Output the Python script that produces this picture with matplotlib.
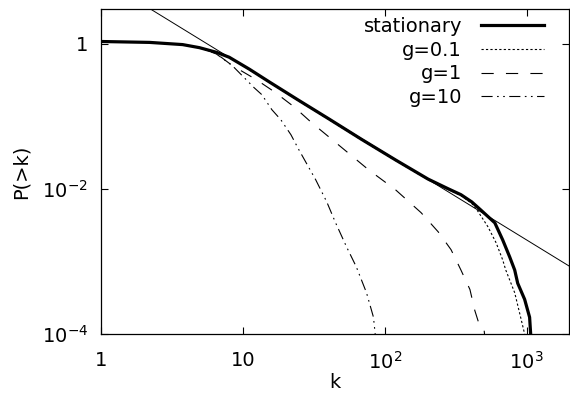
import matplotlib
matplotlib.use("Agg")
import matplotlib.pyplot as plt
import numpy as np

plt.rcParams['font.family'] = ['DejaVu Sans']
plt.rcParams['mathtext.fontset'] = 'dejavusans'

# cumulative degree distributions
k_stat = [1, 2.2, 3.76, 4.94, 6.5, 8.0, 11.1, 15.3, 24.8, 40.3, 68.6, 119, 202, 280,
          344, 410, 475, 596, 677, 759, 823, 864, 967, 1048, 1070]
p_stat = [1.07, 1.04, 0.97, 0.88, 0.76, 0.65, 0.445, 0.298, 0.165, 0.092, 0.048, 0.025,
          0.0136, 0.0100, 0.0083, 0.0066, 0.0051, 0.0034, 0.00198, 0.00115, 0.00076,
          0.0005, 0.0003, 0.00017, 0.00009]

k_g01 = [1, 2.2, 3.76, 4.94, 6.5, 8.0, 11.1, 15.3, 24.8, 40.3, 68.6, 119, 202, 280,
         344, 410, 453, 533, 609, 677, 712, 823, 906, 967, 990]
p_g01 = [1.07, 1.04, 0.97, 0.88, 0.76, 0.645, 0.44, 0.294, 0.162, 0.09, 0.047, 0.0245,
         0.0133, 0.0097, 0.0081, 0.0063, 0.0049, 0.003, 0.0018, 0.00105, 0.00076,
         0.00037, 0.00017, 0.0001, 0.00008]

k_g1 = [1, 2.2, 3.76, 4.94, 6.5, 8.4, 12.4, 16.6, 22.9, 30.6, 40.3, 76.8, 119, 180,
        238, 293, 344, 398, 431, 468, 500, 507]
p_g1 = [1.07, 1.04, 0.97, 0.88, 0.73, 0.50, 0.32, 0.218, 0.135, 0.081, 0.052, 0.0183,
        0.0097, 0.0047, 0.00255, 0.00145, 0.00076, 0.00041, 0.00021, 0.000126,
        0.000118, 0.00009]

k_g10 = [1, 2.2, 3.76, 4.94, 6.5, 8.4, 12.0, 13.6, 16.0, 18.5, 21.8, 24.8, 32.6, 39,
         45, 53.8, 63, 74.3, 83.2, 86]
p_g10 = [1.07, 1.04, 0.97, 0.88, 0.72, 0.50, 0.247, 0.198, 0.123, 0.0895, 0.0556,
         0.0345, 0.0133, 0.0066, 0.0034, 0.00158, 0.00084, 0.00037, 0.00017, 0.00009]

# power-law guide line P = A k^gamma
fit_A = 7.85
fit_gamma = -1.2
fit_k = [1, 2000]

xticks = [1, 10, 100, 1000]
xticklabels = ['1', '10', r'$10^2$', r'$10^3$']
yticks = [1, 1e-2, 1e-4]
yticklabels = ['1', r'$10^{-2}$', r'$10^{-4}$']

fig = plt.figure(figsize=(5.7, 3.94), dpi=100)
ax = fig.add_axes([101 / 570, 1 - 334 / 394, 469 / 570 - 0.001, 325 / 394])

fit_p = [fit_A * kk ** fit_gamma for kk in fit_k]
ax.plot(fit_k, fit_p, color='black', lw=0.7)
ax.plot(k_stat, p_stat, color='black', lw=2.3, label='stationary')
ax.plot(k_g01, p_g01, color='black', lw=0.8, linestyle=(0, (2, 2)), label='g=0.1')
ax.plot(k_g1, p_g1, color='black', lw=0.8, linestyle=(0, (11, 11)), label='g=1')
ax.plot(k_g10, p_g10, color='black', lw=0.8,
        linestyle=(0, (10, 4, 1.5, 4, 1.5, 4)), label='g=10')

ax.set_xscale('log')
ax.set_yscale('log')
ax.set_xlim(1, 2000)
ax.set_ylim(1e-4, 3)
ax.set_xticks(xticks)
ax.set_xticklabels(xticklabels)
ax.set_yticks(yticks)
ax.set_yticklabels(yticklabels)
ax.minorticks_off()
ax.tick_params(direction='in', top=True, right=True, length=5, width=0.8,
               labelsize=14)
ax.tick_params(axis='x', pad=12)
ax.tick_params(axis='y', pad=9.5)
for s in ax.spines.values():
    s.set_linewidth(0.9)

ax.set_xlabel('k', fontsize=14, labelpad=0)
ax.set_ylabel('P(>k)', fontsize=14, labelpad=8)

ax.legend(loc='upper right', bbox_to_anchor=(0.945, 0.975), frameon=False,
          markerfirst=False, fontsize=14, handlelength=3.2, handletextpad=1.0,
          labelspacing=0.24, borderpad=0, borderaxespad=0)

fig.savefig('out.png', dpi=100)
